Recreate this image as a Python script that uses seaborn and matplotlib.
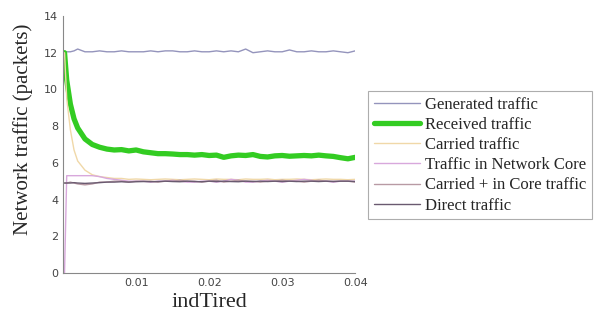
import matplotlib
matplotlib.use("Agg")
import matplotlib.pyplot as plt
import seaborn as sns
import pandas as pd

# x values (indTired)
ind_tired = [0.0002, 0.0005, 0.001, 0.0015, 0.002, 0.003, 0.004, 0.005, 0.006, 0.007,
             0.008, 0.009, 0.010, 0.011, 0.012, 0.013, 0.014, 0.015, 0.016, 0.017,
             0.018, 0.019, 0.020, 0.021, 0.022, 0.023, 0.024, 0.025, 0.026, 0.027,
             0.028, 0.029, 0.030, 0.031, 0.032, 0.033, 0.034, 0.035, 0.036, 0.037,
             0.038, 0.039, 0.040]

generated = [12.0, 12.05, 12.05, 12.1, 12.2, 12.05, 12.05, 12.1, 12.05, 12.05,
             12.1, 12.05, 12.05, 12.05, 12.1, 12.05, 12.1, 12.1, 12.05, 12.05,
             12.1, 12.05, 12.05, 12.1, 12.05, 12.1, 12.05, 12.2, 12.0, 12.05,
             12.1, 12.05, 12.05, 12.15, 12.05, 12.05, 12.1, 12.05, 12.05, 12.1,
             12.05, 12.0, 12.1]

received = [12.0, 10.5, 9.2, 8.4, 7.9, 7.3, 7.0, 6.85, 6.75, 6.7,
            6.72, 6.65, 6.7, 6.6, 6.55, 6.5, 6.5, 6.48, 6.45, 6.45,
            6.42, 6.45, 6.4, 6.42, 6.3, 6.38, 6.42, 6.4, 6.45, 6.35,
            6.32, 6.38, 6.4, 6.36, 6.38, 6.4, 6.38, 6.42, 6.38, 6.35,
            6.28, 6.22, 6.3]

carried = [12.0, 9.5, 7.8, 6.7, 6.1, 5.6, 5.35, 5.25, 5.2, 5.15,
           5.15, 5.1, 5.12, 5.1, 5.08, 5.1, 5.12, 5.1, 5.08, 5.1,
           5.12, 5.1, 5.08, 5.12, 5.1, 5.1, 5.08, 5.12, 5.1, 5.1,
           5.12, 5.08, 5.1, 5.1, 5.12, 5.1, 5.08, 5.1, 5.12, 5.1,
           5.1, 5.08, 5.1]

network_core = [0.0, 5.3, 5.3, 5.3, 5.3, 5.3, 5.3, 5.25, 5.15, 5.1,
                5.05, 5.0, 5.0, 5.0, 4.95, 5.0, 5.0, 5.05, 5.0, 4.95,
                4.95, 5.0, 5.0, 4.95, 5.0, 5.1, 5.05, 4.95, 4.95, 5.0,
                5.05, 5.0, 4.95, 5.0, 5.05, 5.1, 5.05, 5.0, 5.0, 4.95,
                5.0, 5.0, 5.0]

carried_core = [4.9, 4.9, 4.95, 4.9, 4.85, 4.8, 4.85, 4.95, 4.95, 5.0,
                5.0, 4.95, 5.0, 5.0, 5.0, 4.95, 5.0, 5.0, 5.05, 5.0,
                5.0, 4.95, 5.0, 5.05, 4.95, 5.0, 5.05, 5.0, 5.0, 4.95,
                5.0, 5.0, 5.05, 5.0, 5.0, 4.95, 5.0, 5.05, 5.0, 5.0,
                5.0, 5.0, 4.95]

direct = [4.9, 4.9, 4.9, 4.92, 4.9, 4.88, 4.9, 4.92, 4.95, 4.95,
          4.97, 4.95, 4.97, 4.98, 4.97, 4.98, 5.0, 4.98, 4.97, 5.0,
          4.98, 4.97, 5.0, 4.98, 5.0, 4.98, 4.97, 5.0, 4.98, 5.0,
          4.98, 5.0, 4.98, 5.0, 4.98, 5.0, 5.0, 4.98, 5.0, 4.98,
          5.0, 5.0, 4.98]

series = {
    "Generated traffic": generated,
    "Received traffic": received,
    "Carried traffic": carried,
    "Traffic in Network Core": network_core,
    "Carried + in Core traffic": carried_core,
    "Direct traffic": direct,
}
colors = ["#9494bc", "#33cc22", "#f0d8a8", "#d8a8dc", "#b89aa4", "#6a5a70"]
widths = [1.0, 3.8, 1.0, 1.0, 1.0, 1.0]

sns.set_style("white")

fig = plt.figure(figsize=(5.95, 3.2), dpi=100)
ax = fig.add_axes([0.106, 0.147, 0.491, 0.803])

for (name, vals), c, w in zip(series.items(), colors, widths):
    df = pd.DataFrame({"x": ind_tired, "y": vals})
    sns.lineplot(data=df, x="x", y="y", ax=ax, color=c, linewidth=w, label=name)

ax.set_xlim(0.0, 0.04)
ax.set_ylim(0, 14)
ax.set_xticks([0.01, 0.02, 0.03, 0.04])
ax.set_xticklabels(["0.01", "0.02", "0.03", "0.04"])
ax.set_yticks([0, 2, 4, 6, 8, 10, 12, 14])
ax.tick_params(axis="both", labelsize=8, colors="#555555", length=3, direction="in")
ax.tick_params(axis="both", labelcolor="#444444")

for side in ["top", "right"]:
    ax.spines[side].set_visible(False)
for side in ["left", "bottom"]:
    ax.spines[side].set_color("#888888")
    ax.spines[side].set_linewidth(0.8)

ax.set_xlabel("indTired", family="Liberation Serif", fontsize=16, labelpad=4)
ax.set_ylabel("Network traffic (packets)", family="Liberation Serif", fontsize=15)
ax.yaxis.set_label_coords(-0.103, 0.56)

leg = ax.legend(loc="upper left", bbox_to_anchor=(0.618, 0.716), bbox_transform=fig.transFigure,
                prop={"family": "Liberation Serif", "size": 12}, frameon=True, fancybox=False,
                handlelength=2.8, handletextpad=0.3, labelspacing=0.25, borderpad=0.35,
                borderaxespad=0)
leg.get_frame().set_edgecolor("#999999")
leg.get_frame().set_linewidth(0.8)

fig.savefig("out.png", dpi=100)
